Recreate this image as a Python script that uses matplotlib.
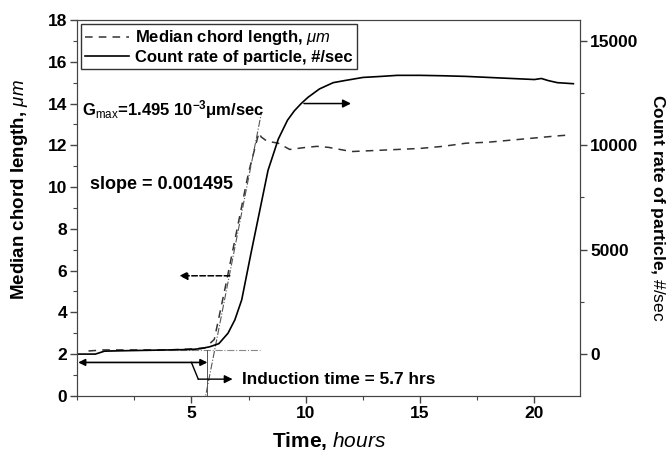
import matplotlib
matplotlib.use('Agg')
import matplotlib.pyplot as plt
from matplotlib.ticker import MultipleLocator

plt.rcParams['font.family'] = ['Liberation Sans', 'DejaVu Sans']
plt.rcParams['mathtext.fontset'] = 'custom'
plt.rcParams['mathtext.rm'] = 'Liberation Sans'
plt.rcParams['mathtext.it'] = 'Liberation Sans:italic'
plt.rcParams['mathtext.bf'] = 'Liberation Sans:bold'

# median chord length (um), left axis
median_time = [0.5, 1.2, 2, 3, 4, 5, 5.6, 6.0, 6.5, 7.0, 7.5, 7.95, 8.05, 8.3, 8.8, 9.3,
               10.0, 10.5, 11.0, 12.0, 13.0, 14, 15, 16, 17, 18, 19, 20, 21, 21.6]
median_len = [2.15, 2.2, 2.2, 2.2, 2.2, 2.25, 2.3, 2.7, 5.3, 8.0, 10.7, 12.6, 12.4, 12.2,
              12.1, 11.8, 11.9, 11.95, 11.9, 11.7, 11.75, 11.8, 11.85, 11.95, 12.1, 12.15,
              12.25, 12.35, 12.45, 12.5]

# count rate (#/sec), right axis
count_time = [0, 0.8, 1.2, 2, 3, 4, 5, 5.4, 5.8, 6.2, 6.6, 6.9, 7.2, 7.6, 7.9, 8.35, 8.8,
              9.2, 9.5, 9.8, 10.1, 10.6, 11.2, 11.7, 12.5, 13.3, 14, 15, 16, 17, 18, 19,
              20, 20.3, 20.6, 21, 21.7]
count_rate = [0, 0, 140, 160, 180, 200, 220, 260, 350, 500, 1000, 1640, 2600, 4800, 6400,
              8800, 10300, 11200, 11650, 12000, 12300, 12700, 13000, 13100, 13250, 13300,
              13350, 13350, 13330, 13300, 13250, 13200, 13150, 13200, 13100, 13000, 12950]

# tangent (G_max) and baseline used to find induction time
tangent_x = [5.55, 8.05]
tangent_y = [-0.4, 13.5]
base_x = [1.4, 8.0]
base_y = [2.2, 2.2]
induction = 5.7

fig = plt.figure(figsize=(6.7, 4.55), dpi=100)
ax = fig.add_axes([0.115, 0.13, 0.751, 0.826])
ax2 = ax.twinx()

l1, = ax.plot(median_time, median_len, color='#333333', lw=1.1, ls=(0, (5, 4)))
l2, = ax2.plot(count_time, count_rate, color='black', lw=1.2)

ax.plot(tangent_x, tangent_y, color='#555555', lw=0.8, ls='-.')
ax.plot(base_x, base_y, color='#888888', lw=0.8, ls='-.')
ax.plot([induction, induction], [0, 2.2], color='#555555', lw=0.7)

ax.set_xlim(0, 22)
ax.set_ylim(0, 18)
ax2.set_ylim(-2000, 16000)

ax.xaxis.set_major_locator(MultipleLocator(5))
ax.xaxis.set_minor_locator(MultipleLocator(2.5))
ax.yaxis.set_major_locator(MultipleLocator(2))
ax.yaxis.set_minor_locator(MultipleLocator(1))
ax2.yaxis.set_major_locator(MultipleLocator(5000))
ax2.yaxis.set_minor_locator(MultipleLocator(2500))

for a in (ax, ax2):
    a.tick_params(which='major', direction='out', length=5, width=1, labelsize=12.5,
                  color='#444444', pad=2)
    a.tick_params(which='minor', direction='out', length=3, width=0.8, color='#444444')
    for s in a.spines.values():
        s.set_color('#444444')
ax.set_xticks([5, 10, 15, 20])
for a in (ax, ax2):
    for lab in a.get_xticklabels() + a.get_yticklabels():
        lab.set_fontweight('bold')

ax.set_xlabel('Time, $\\mathit{hours}$', fontsize=15, fontweight='bold', labelpad=7)
ax.set_ylabel('Median chord length, $\\mathit{\\mu m}$', fontsize=13.5, fontweight='bold')
ax.yaxis.set_label_coords(-0.093, 0.548)
ax2.set_ylabel('Count rate of particle, $\\mathrm{\\#/sec}$', fontsize=12.5, fontweight='bold',
               rotation=270, labelpad=21)

leg = ax.legend([l1, l2], ['Median chord length, $\\mathit{\\mu m}$', 'Count rate of particle, #/sec'],
                loc='upper left', bbox_to_anchor=(0.0, 1.0), borderaxespad=0.25, fancybox=False,
                edgecolor='#333333', prop={'weight': 'bold', 'size': 12}, handlelength=2.6,
                handletextpad=0.4, borderpad=0.25, labelspacing=0.15, framealpha=1)
leg.get_frame().set_linewidth(1.0)

ax.text(0.2, 13.7, 'G$_\\mathrm{max}$=1.495 10$^{\\mathbf{-3}}$\u03bcm/sec', va='center',
        fontsize=12, fontweight='bold')
ax.text(0.55, 10.1, 'slope = 0.001495', va='center', fontsize=13, fontweight='bold')
ax.text(7.2, 0.8, 'Induction time = 5.7 hrs', va='center', fontsize=12.4, fontweight='bold')

# arrows pointing to the axis each curve belongs to
ax.annotate('', xy=(12.1, 14.0), xytext=(9.8, 14.0),
            arrowprops=dict(arrowstyle='-|>', color='black', lw=1.1, mutation_scale=12))
ax.annotate('', xy=(4.35, 5.75), xytext=(6.8, 5.75),
            arrowprops=dict(arrowstyle='-|>', color='black', lw=1.1, ls='--', mutation_scale=12))

# induction time bracket
ax.annotate('', xy=(0.05, 1.6), xytext=(induction, 1.6),
            arrowprops=dict(arrowstyle='<|-|>', color='black', lw=1.2, mutation_scale=10,
                            shrinkA=0, shrinkB=0))
ax.plot([5.0, 5.3], [1.6, 0.8], color='black', lw=1.0)
ax.annotate('', xy=(6.8, 0.8), xytext=(5.3, 0.8),
            arrowprops=dict(arrowstyle='-|>', color='black', lw=1.0, mutation_scale=12,
                            shrinkA=0, shrinkB=0))

fig.savefig('out.png', dpi=100)
